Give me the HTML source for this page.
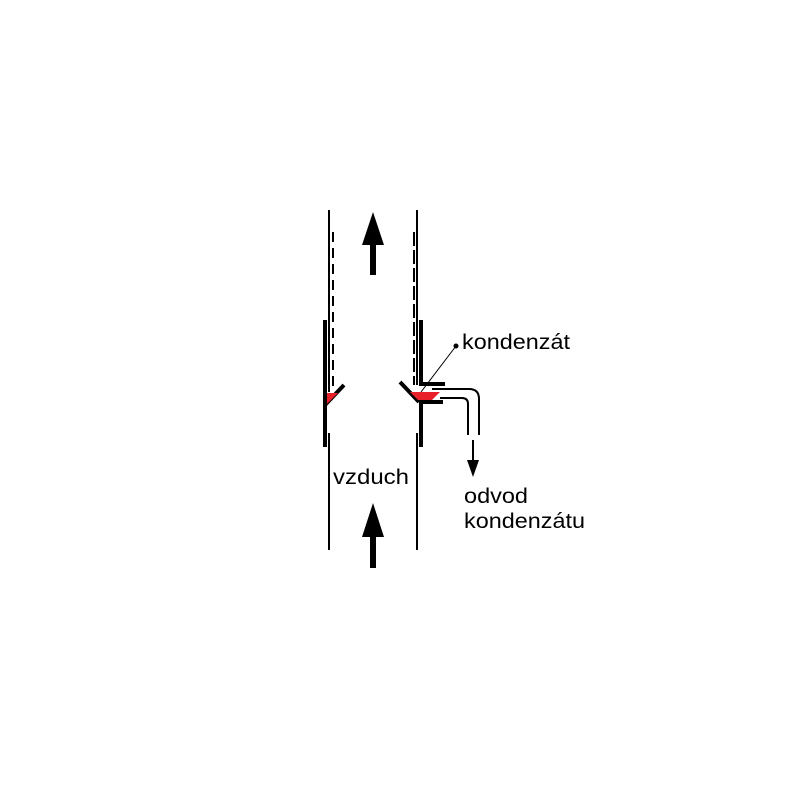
<!DOCTYPE html>
<html><head><style>body{margin:0;background:#fff}svg{display:block}text{font-family:"Liberation Sans",sans-serif;font-size:21px;fill:#000}</style></head>
<body><svg width="800" height="800" viewBox="0 0 800 800">
<g stroke="#000" fill="none">
<line x1="329" y1="210" x2="329" y2="392" stroke-width="2"/>
<line x1="329" y1="433" x2="329" y2="550" stroke-width="2"/>
<line x1="333" y1="232" x2="333" y2="392" stroke-width="2" stroke-dasharray="10,6"/>
<line x1="417" y1="210" x2="417" y2="385" stroke-width="2"/>
<line x1="417" y1="433" x2="417" y2="550" stroke-width="2"/>
<line x1="414" y1="232" x2="414" y2="385" stroke-width="2" stroke-dasharray="14,4"/>
<line x1="325" y1="320" x2="325" y2="447" stroke-width="4"/>
<line x1="325" y1="405" x2="344" y2="385" stroke-width="4"/>
<line x1="421" y1="320" x2="421" y2="385" stroke-width="4"/>
<line x1="419" y1="384" x2="445" y2="384" stroke-width="4"/>
<line x1="421" y1="402" x2="421" y2="447" stroke-width="4"/>
<line x1="400" y1="382" x2="419" y2="402" stroke-width="4"/>
<line x1="419" y1="402" x2="443" y2="402" stroke-width="4"/>
<path d="M432 389 H469 Q479 389 479 399 V435" stroke-width="2"/>
<path d="M440 398 H462 Q468 398 468 404 V435" stroke-width="2"/>
<line x1="456" y1="346" x2="421" y2="392" stroke-width="1"/>
<line x1="473" y1="440" x2="473" y2="462" stroke-width="2"/>
</g>
<polygon points="327,393 338,393 327,404" fill="#e8202a"/>
<polygon points="410,392 440,392 432,400 418,400" fill="#e8202a"/>
<circle cx="456" cy="346" r="2.5" fill="#000"/>
<polygon points="467,460 479,460 473,477" fill="#000"/>
<polygon points="373,212 362,245 384,245" fill="#000"/>
<rect x="370" y="244" width="6" height="31" fill="#000"/>
<polygon points="373,503 362,537 384,537" fill="#000"/>
<rect x="370" y="536" width="6" height="32" fill="#000"/>
<text x="462" y="349" textLength="108" lengthAdjust="spacingAndGlyphs">kondenzát</text>
<text x="333" y="484" textLength="76" lengthAdjust="spacingAndGlyphs">vzduch</text>
<text x="464" y="503" textLength="64" lengthAdjust="spacingAndGlyphs">odvod</text>
<text x="464" y="528" textLength="121" lengthAdjust="spacingAndGlyphs">kondenzátu</text>
</svg></body></html>
